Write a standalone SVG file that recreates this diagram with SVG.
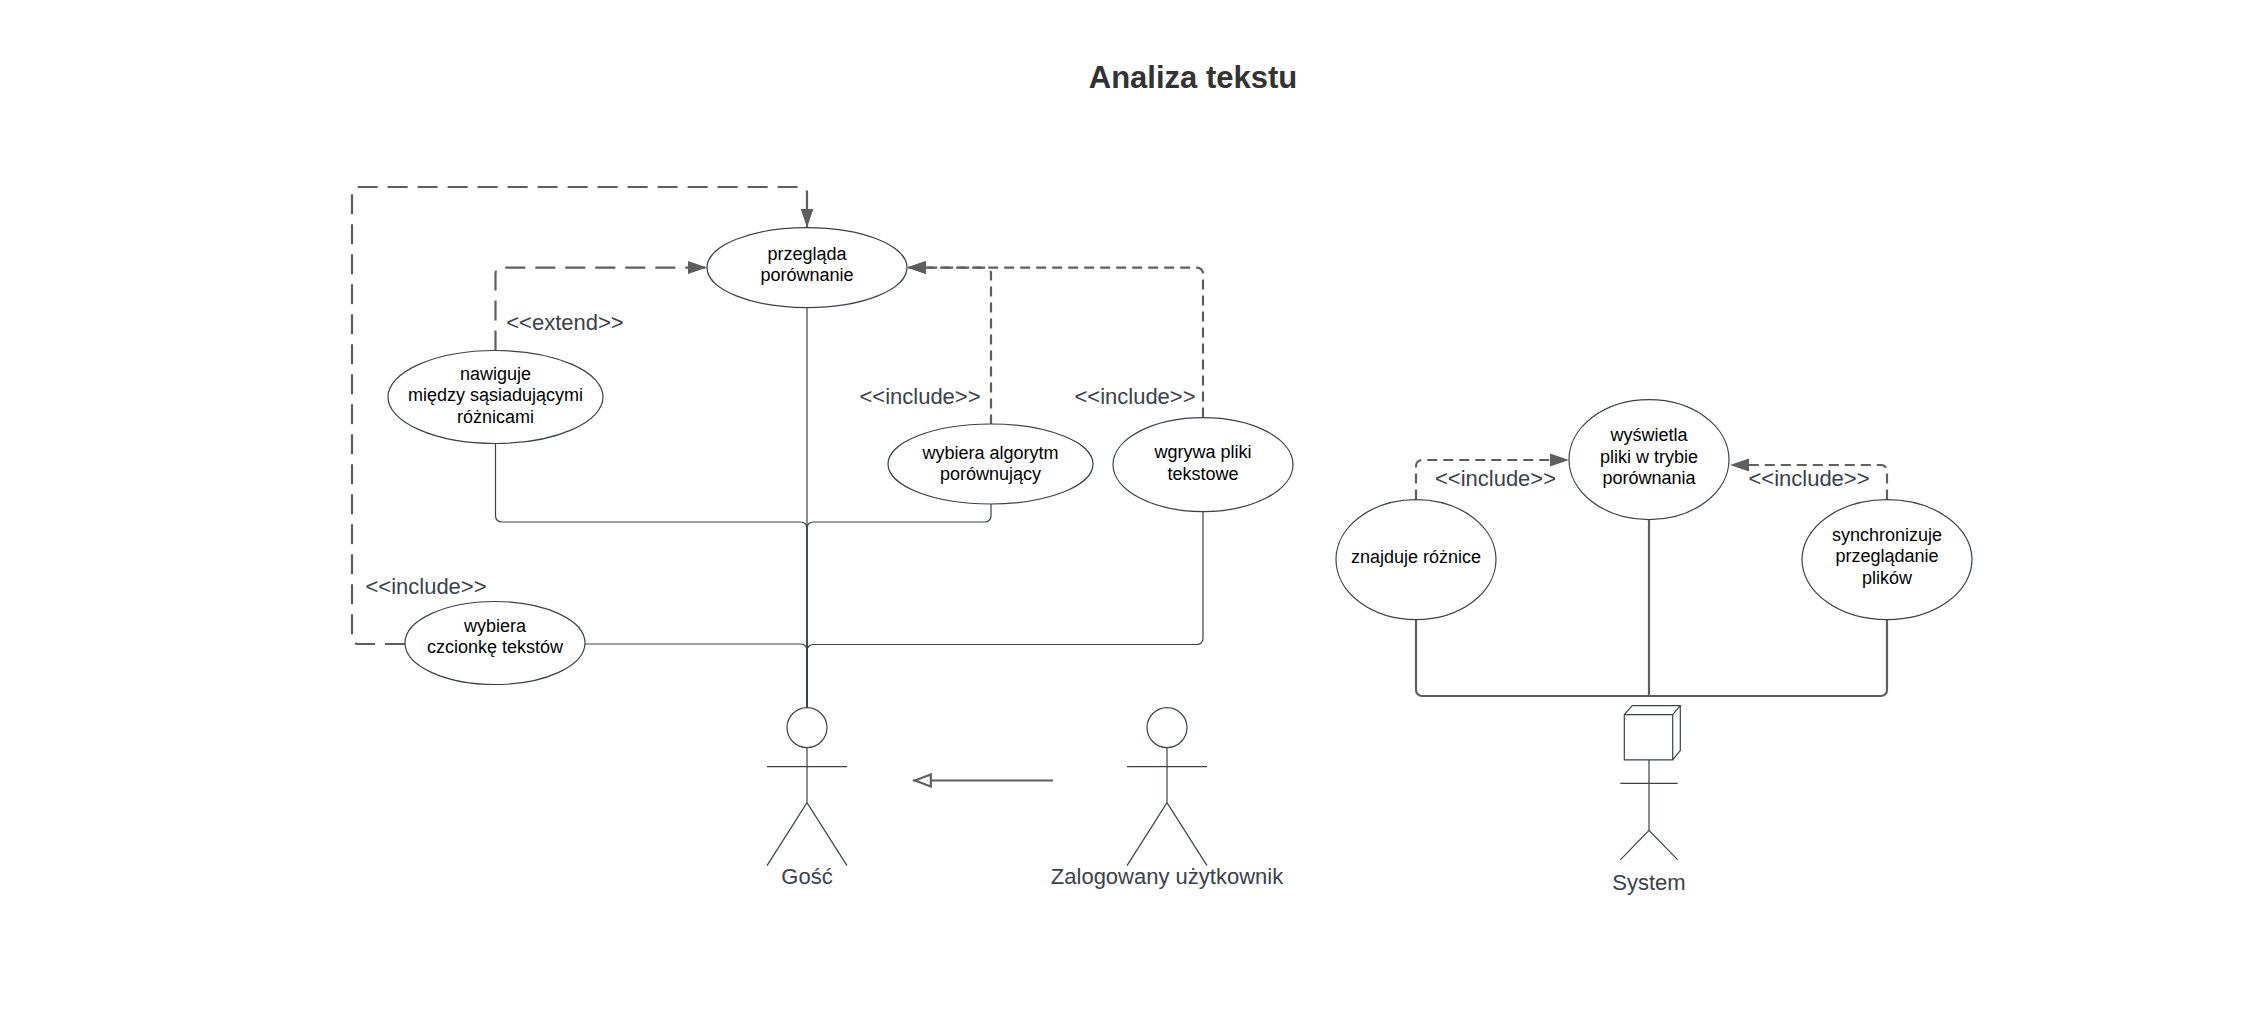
<svg xmlns="http://www.w3.org/2000/svg" width="2244" height="1027" viewBox="0 0 2244 1027">
<style>
text{font-family:"Liberation Sans",Arial,sans-serif;text-anchor:middle}
.n{font-size:18px;fill:#000}
.l{font-size:22px;fill:#3a414a}
.t{font-size:31px;font-weight:bold;fill:#333}
ellipse{fill:#fff;stroke:#3a414a;stroke-width:1.2}
.a{fill:none;stroke:#3a414a;stroke-width:1.2}
.s{fill:none;stroke:#3a414a;stroke-width:1.2}
.s2{fill:none;stroke:#5e5e5e;stroke-width:2.2}
.long{fill:none;stroke:#5e5e5e;stroke-width:2.2;stroke-dasharray:20 10}
.short{fill:none;stroke:#5e5e5e;stroke-width:2.2;stroke-dasharray:10 6}
</style>
<defs>
<marker id="fill" markerUnits="userSpaceOnUse" markerWidth="20" markerHeight="16" refX="19" refY="8" orient="auto"><path d="M0 1.500L19 8L0 14.500Z" fill="#5e5e5e"/></marker>
<marker id="hollow" markerUnits="userSpaceOnUse" markerWidth="20" markerHeight="16" refX="19" refY="8" orient="auto"><path d="M1.200 2L17 8L1.200 14Z" fill="#fff" stroke="#5e5e5e" stroke-width="2.200"/></marker>
</defs>
<text class="t" x="1193" y="88">Analiza tekstu</text>
<g id="connectors">
<path class="long" d="M405 644H358a6 6 0 0 1-6-6V193a6 6 0 0 1 6-6H801a6 6 0 0 1 6 6V227.600" marker-end="url(#fill)"/>
<path class="long" d="M495.500 350.600V273.600a6 6 0 0 1 6-6H707" marker-end="url(#fill)"/>
<path class="short" d="M991 424.600V273.600a6 6 0 0 0-6-6H907" marker-end="url(#fill)"/>
<path class="short" d="M1203 417.600V273.600a6 6 0 0 0-6-6H907" marker-end="url(#fill)"/>
<path class="short" d="M1416 499.600V466a6 6 0 0 1 6-6H1569" marker-end="url(#fill)"/>
<path class="short" d="M1887 499.600V471a6 6 0 0 0-6-6H1730" marker-end="url(#fill)"/>
<path class="s" d="M807 307.600V708"/>
<path class="s" d="M495.500 443.600V516a6 6 0 0 0 6 6H801a6 6 0 0 1 6 6V708"/>
<path class="s" d="M991 503.600V516a6 6 0 0 1-6 6H813a6 6 0 0 0-6 6V708"/>
<path class="s" d="M585 644H801a6 6 0 0 1 6 6V708"/>
<path class="s" d="M1203 511.600V638.500a6 6 0 0 1-6 6H813a6 6 0 0 0-6 6V708"/>
<path class="s2" d="M1649 519.600V696"/>
<path class="s2" d="M1416 619.600V690a6 6 0 0 0 6 6H1881a6 6 0 0 0 6-6V619.600"/>
<path class="s2" d="M1053 780.500H913" marker-end="url(#hollow)"/>
</g>
<g id="node-przeglada"><ellipse cx="807" cy="267.600" rx="100" ry="40"/><text class="n" x="807" y="259.500">przegląda</text><text class="n" x="807" y="281">porównanie</text></g>
<g id="node-nawiguje"><ellipse cx="495.500" cy="397" rx="107.500" ry="46.500"/><text class="n" x="495.500" y="379.500">nawiguje</text><text class="n" x="495.500" y="401">między sąsiadującymi</text><text class="n" x="495.500" y="422.500">różnicami</text></g>
<g id="node-algorytm"><ellipse cx="990.500" cy="464" rx="102.500" ry="40"/><text class="n" x="990.500" y="458.500">wybiera algorytm</text><text class="n" x="990.500" y="480">porównujący</text></g>
<g id="node-wgrywa"><ellipse cx="1203" cy="464.600" rx="90" ry="47"/><text class="n" x="1203" y="458">wgrywa pliki</text><text class="n" x="1203" y="479.500">tekstowe</text></g>
<g id="node-czcionka"><ellipse cx="495" cy="643" rx="90" ry="41.500"/><text class="n" x="495" y="631.500">wybiera</text><text class="n" x="495" y="653">czcionkę tekstów</text></g>
<g id="node-wyswietla"><ellipse cx="1649" cy="459.600" rx="80" ry="60"/><text class="n" x="1649" y="440.500">wyświetla</text><text class="n" x="1649" y="462.500">pliki w trybie</text><text class="n" x="1649" y="484">porównania</text></g>
<g id="node-znajduje"><ellipse cx="1416" cy="559.600" rx="80" ry="60"/><text class="n" x="1416" y="562.500">znajduje różnice</text></g>
<g id="node-synchronizuje"><ellipse cx="1887" cy="559.600" rx="85" ry="60"/><text class="n" x="1887" y="540.500">synchronizuje</text><text class="n" x="1887" y="562">przeglądanie</text><text class="n" x="1887" y="583.500">plików</text></g>
<g id="actor-gosc"><ellipse cx="807" cy="727.600" rx="20" ry="20"/><path class="a" d="M807 747.600V802.600M767 766.600H847M767 865.600L807 802.600L847 865.600"/><text class="l" x="807" y="884">Gość</text></g>
<g id="actor-zalogowany"><ellipse cx="1167" cy="727.600" rx="20" ry="20"/><path class="a" d="M1167 747.600V802.600M1127 766.600H1207M1127 865.600L1167 802.600L1207 865.600"/><text class="l" x="1167" y="884">Zalogowany użytkownik</text></g>
<g id="actor-system"><path class="a" d="M1624.300 714.600H1672.700V759.900H1624.300ZM1624.300 714.600L1632.300 705.600H1680.300L1672.700 714.600M1680.300 705.600V750.600L1672.700 759.900M1649 759.900V830.300M1620.300 783.300H1677.700M1620.300 859.900L1649 830.300L1677.700 859.900"/><text class="l" x="1649" y="890">System</text></g>
<g id="labels">
<text class="l" x="565" y="330">&lt;&lt;extend&gt;&gt;</text>
<text class="l" x="920" y="404">&lt;&lt;include&gt;&gt;</text>
<text class="l" x="1135" y="404">&lt;&lt;include&gt;&gt;</text>
<text class="l" x="426" y="594">&lt;&lt;include&gt;&gt;</text>
<text class="l" x="1495.500" y="486">&lt;&lt;include&gt;&gt;</text>
<text class="l" x="1809" y="486">&lt;&lt;include&gt;&gt;</text>
</g>
</svg>
